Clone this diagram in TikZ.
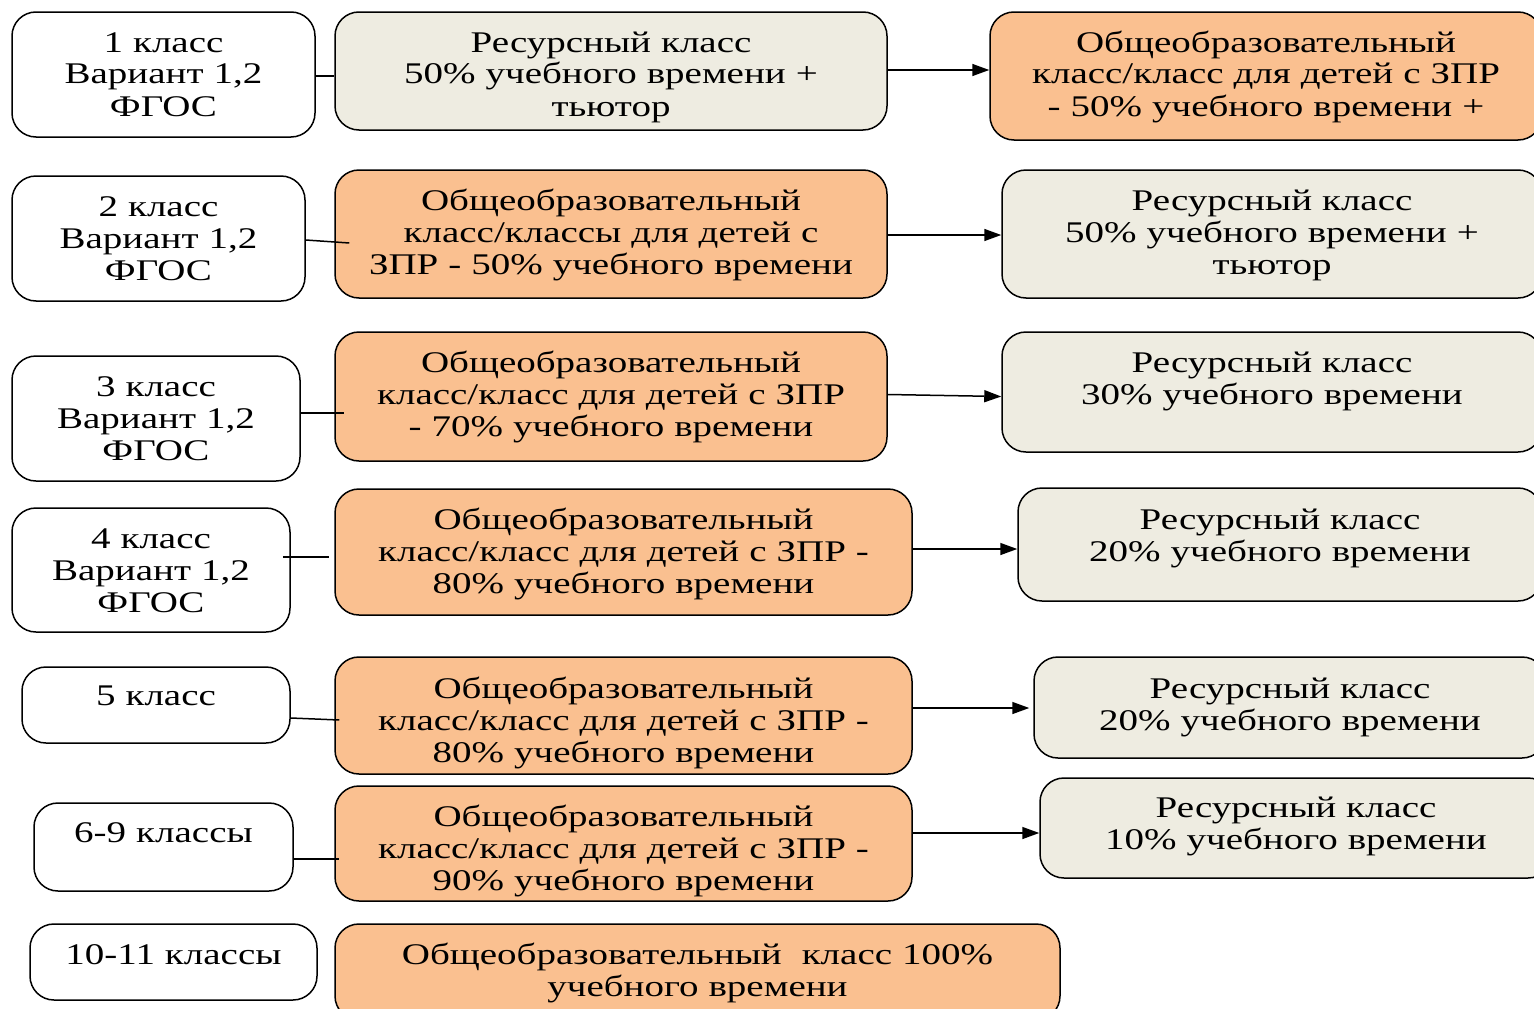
\documentclass[tikz,border=0pt]{standalone}
\usepackage{fontspec}
\setmainfont[FakeStretch=1.3]{Liberation Serif}
\usetikzlibrary{arrows.meta}
\definecolor{resgray}{HTML}{EEECE1}
\definecolor{genorange}{HTML}{FAC090}
\begin{document}
\begin{tikzpicture}[x=1pt,y=-1pt,
  box/.style={draw=black,line width=1.5pt,rounded corners=24pt,inner sep=0pt},
  lbox/.style={box,fill=white},
  gbox/.style={box,fill=resgray},
  obox/.style={box,fill=genorange},
  txt/.style={anchor=base,align=center,inner sep=0pt,text width=#1,font=\fontsize{30}{32}\selectfont},
  txt/.default=570pt,
  link/.style={line width=1.5pt},
  arr/.style={line width=1.5pt,-{Triangle[length=17pt,width=12pt]}}]
\useasboundingbox (0,0) rectangle (1534,1009);
\clip (0,0) rectangle (1534,1009);
\fill[white] (0,0) rectangle (1534,1009);

% row 1
\node[lbox,minimum width=303pt,minimum height=125pt] (l1) at (163.5,74.5) {};
\node[gbox,minimum width=552pt,minimum height=118pt] (m1) at (611,71) {};
\node[obox,minimum width=552pt,minimum height=128pt] (r1) at (1266,76) {};
\node[txt=300pt] (l1t) at (163.5,52) {1 класс\\Вариант 1,2\\ФГОС};
\node[txt] (m1t) at (611,52) {Ресурсный класс\\50\% учебного времени +\\тьютор};
\node[txt] (r1t) at (1266,52) {Общеобразовательный\\класс/класс для детей с ЗПР\\- 50\% учебного времени +};

% row 2
\node[lbox,minimum width=293pt,minimum height=125pt] (l2) at (158.5,238.5) {};
\node[obox,minimum width=552pt,minimum height=128pt] (m2) at (611,234) {};
\node[gbox,minimum width=540pt,minimum height=128pt] (r2) at (1272,234) {};
\node[txt=290pt] (l2t) at (158.5,216) {2 класс\\Вариант 1,2\\ФГОС};
\node[txt] (m2t) at (611,210) {Общеобразовательный\\класс/классы для детей с\\ЗПР - 50\% учебного времени};
\node[txt] (r2t) at (1272,210) {Ресурсный класс\\50\% учебного времени +\\тьютор};

% row 3
\node[lbox,minimum width=288pt,minimum height=125pt] (l3) at (156,418.5) {};
\node[obox,minimum width=552pt,minimum height=129pt] (m3) at (611,396.5) {};
\node[gbox,minimum width=540pt,minimum height=120pt] (r3) at (1272,392) {};
\node[txt=285pt] (l3t) at (156,396) {3 класс\\Вариант 1,2\\ФГОС};
\node[txt] (m3t) at (611,372) {Общеобразовательный\\класс/класс для детей с ЗПР\\- 70\% учебного времени};
\node[txt] (r3t) at (1272,372) {Ресурсный класс\\30\% учебного времени};

% row 4
\node[lbox,minimum width=278pt,minimum height=124pt] (l4) at (151,570) {};
\node[obox,minimum width=577pt,minimum height=126pt] (m4) at (623.5,552) {};
\node[gbox,minimum width=524pt,minimum height=113pt] (r4) at (1280,544.5) {};
\node[txt=275pt] (l4t) at (151,548) {4 класс\\Вариант 1,2\\ФГОС};
\node[txt] (m4t) at (623.5,529) {Общеобразовательный\\класс/класс для детей с ЗПР -\\80\% учебного времени};
\node[txt] (r4t) at (1280,529) {Ресурсный класс\\20\% учебного времени};

% row 5
\node[lbox,minimum width=268pt,minimum height=76pt] (l5) at (156,705) {};
\node[obox,minimum width=577pt,minimum height=117pt] (m5) at (623.5,715.5) {};
\node[gbox,minimum width=512pt,minimum height=101pt] (r5) at (1290,707.5) {};
\node[txt=265pt] (l5t) at (156,705) {5 класс};
\node[txt] (m5t) at (623.5,698) {Общеобразовательный\\класс/класс для детей с ЗПР -\\80\% учебного времени};
\node[txt] (r5t) at (1290,698) {Ресурсный класс\\20\% учебного времени};

% row 6
\node[lbox,minimum width=259pt,minimum height=88pt] (l6) at (163.5,847) {};
\node[obox,minimum width=577pt,minimum height=115pt] (m6) at (623.5,843.5) {};
\node[gbox,minimum width=512pt,minimum height=100pt] (r6) at (1296,828) {};
\node[txt=255pt] (l6t) at (163.5,842) {6-9 классы};
\node[txt] (m6t) at (623.5,826) {Общеобразовательный\\класс/класс для детей с ЗПР -\\90\% учебного времени};
\node[txt] (r6t) at (1296,817) {Ресурсный класс\\10\% учебного времени};

% row 7
\node[lbox,minimum width=287pt,minimum height=76pt] (l7) at (173.5,962) {};
\node[obox,minimum width=725pt,minimum height=96pt] (m7) at (697.5,972) {};
\node[txt=285pt] (l7t) at (173.5,964) {10-11 классы};
\node[txt=720pt] (m7t) at (697.5,964) {Общеобразовательный\ \ класс 100\%\\учебного времени};

% connectors left -> middle
\draw[link] ([yshift=-1.5pt]l1.east) -- ([yshift=-5pt]m1.west);
\draw[link] ([yshift=-1.5pt]l2.east) -- ([xshift=15pt,yshift=-9pt]m2.west);
\draw[link] ([yshift=5.5pt]l3.east) -- ([xshift=10pt,yshift=-16.5pt]m3.west);
\draw[link] ([xshift=-8pt,yshift=13pt]l4.east) -- ([xshift=-5pt,yshift=-5pt]m4.west);
\draw[link] ([yshift=-13pt]l5.east) -- ([xshift=5pt,yshift=-4.5pt]m5.west);
\draw[link] ([yshift=-12pt]l6.east) -- ([xshift=5pt,yshift=-15.5pt]m6.west);

% arrows middle -> right
\draw[arr] ([yshift=1pt]m1.east) -- ([yshift=1pt]m1.east -| r1.west);
\draw[arr] ([yshift=-1pt]m2.east) -- ([yshift=-1pt]m2.east -| r2.west);
\draw[arr] ([yshift=2pt]m3.east) -- ([yshift=0pt]m3.east -| r3.west);
\draw[arr] ([yshift=3pt]m4.east) -- ([yshift=3pt]m4.east -| r4.west);
\draw[arr] ([yshift=7.5pt]m5.east) -- ([xshift=-4pt,yshift=7.5pt]m5.east -| r5.west);
\draw[arr] ([yshift=10.5pt]m6.east) -- ([yshift=10.5pt]m6.east -| r6.west);
\end{tikzpicture}
\end{document}
